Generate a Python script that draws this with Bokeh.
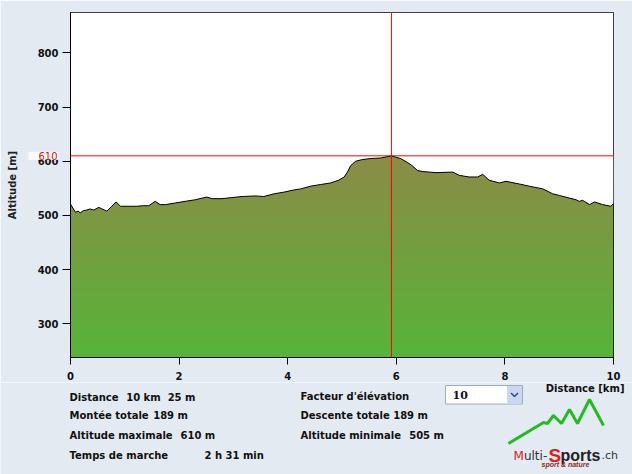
import numpy as np
from bokeh.plotting import figure
from bokeh.models import Range1d, FixedTicker, Span, Label
from bokeh.layouts import column
from bokeh.core.properties import value
from bokeh.embed import file_html
from bokeh.resources import INLINE

# ---------------- data ----------------
distance_km = [0.0, 0.09, 0.14, 0.18, 0.24, 0.30, 0.36, 0.43, 0.52, 0.58, 0.63, 0.67,
               0.76, 0.84, 0.92, 1.22, 1.34, 1.44, 1.56, 1.65, 1.75, 1.93, 2.11, 2.30,
               2.51, 2.61, 2.79, 2.97, 3.16, 3.40, 3.56, 3.75, 3.93, 4.11, 4.24, 4.42,
               4.60, 4.79, 4.94, 5.04, 5.10, 5.16, 5.25, 5.37, 5.52, 5.71, 5.91, 6.08,
               6.20, 6.29, 6.39, 6.49, 6.73, 7.04, 7.16, 7.34, 7.50, 7.59, 7.71, 7.90,
               8.02, 8.27, 8.45, 8.70, 8.88, 9.00, 9.19, 9.31, 9.37, 9.43, 9.56, 9.65,
               9.80, 9.95, 10.0]
altitude_m = [521, 506, 508, 505, 509, 510, 512, 510, 515, 512, 510, 508,
              517, 525, 517, 517, 518, 518, 526, 520, 520, 523, 526, 529,
              534, 531, 531, 533, 535, 536, 535, 540, 543, 547, 549, 554,
              557, 560, 565, 571, 580, 592, 600, 603, 605, 606, 610, 605,
              598, 592, 583, 581, 579, 580, 574, 571, 571, 576, 565, 560,
              563, 558, 554, 549, 540, 537, 532, 529, 526, 528, 520, 525,
              520, 517, 522]
x_ticks = [0, 2, 4, 6, 8, 10]
y_ticks = [300, 400, 500, 600, 700, 800]
max_alt = 610
max_alt_km = 5.91

stat_labels_left = ["Distance", "Montée totale", "Altitude maximale", "Temps de marche"]
stat_values_left = ["10 km\u00a0 25 m", "189 m", "610 m", "2 h 31 min"]
stat_labels_right = ["Facteur d'élévation", "Descente totale", "Altitude minimale"]
stat_values_right = ["189 m", "505 m"]
elevation_factor = "10"

# ---------------- styles ----------------
BG = "#e3eaf2"
RED = "#ff0000"
Y_MIN, Y_MAX = 238, 874.4
FONT = "DejaVu Sans"

p = figure(width=632, height=382, x_range=Range1d(0, 10), y_range=Range1d(Y_MIN, Y_MAX),
           output_backend="svg", toolbar_location=None,
           min_border_left=70, min_border_right=19, min_border_top=12, min_border_bottom=25,
           background_fill_color="white", border_fill_color=BG,
           outline_line_color="black", outline_line_width=1)
p.frame_align = False

# gradient fill under the profile
n = 128
t = np.linspace(0, 1, n)
c_bottom = np.array([86, 180, 56], dtype=float)
c_top = np.array([140, 139, 70], dtype=float)
rgb = c_bottom[None, :] + (c_top - c_bottom)[None, :] * t[:, None]
img = np.empty((n, 2), dtype=np.uint32)
view = img.view(dtype=np.uint8).reshape((n, 2, 4))
for k in range(3):
    view[:, :, k] = np.round(rgb[:, k])[:, None].astype(np.uint8)
view[:, :, 3] = 255
p.image_rgba(image=[img], x=0, y=Y_MIN, dw=10, dh=max(altitude_m) - Y_MIN)

# mask above the profile
p.varea(x=distance_km, y1=altitude_m, y2=Y_MAX, fill_color="white")
p.line(distance_km, altitude_m, line_color="black", line_width=1)

p.add_layout(Span(location=max_alt, dimension="width", line_color=RED, line_width=1))
p.add_layout(Span(location=max_alt_km, dimension="height", line_color=RED, line_width=1))

p.xgrid.visible = False
p.ygrid.visible = False
p.xaxis.ticker = FixedTicker(ticks=x_ticks)
p.yaxis.ticker = FixedTicker(ticks=y_ticks)
for ax in (p.xaxis, p.yaxis):
    ax.major_label_text_font = FONT
    ax.major_label_text_font_style = "bold"
    ax.major_label_text_font_size = "10px"
    ax.major_label_text_color = "#111111"
    ax.major_tick_in = 0
    ax.minor_tick_line_color = None
    ax.axis_line_color = "black"
    ax.major_tick_line_color = "black"
p.xaxis.major_tick_out = 7
p.yaxis.major_tick_out = 8
p.xaxis.major_label_standoff = 7
p.yaxis.major_label_standoff = 4
p.yaxis.axis_label = "Altitude [m]"
p.yaxis.axis_label_text_font = FONT
p.yaxis.axis_label_text_font_style = "bold"
p.yaxis.axis_label_text_font_size = "10px"
p.yaxis.axis_label_text_color = "#222222"
p.yaxis.axis_label_standoff = 17

# max-altitude marker label; living in a side panel keeps it from being clipped
p.add_layout(Label(x=-0.22, y=max_alt, text=str(max_alt), text_align="right",
                   text_baseline="middle", text_color="#dd1111", text_font=FONT,
                   text_font_size="10px", background_fill_color="#fbfbfb",
                   padding=dict(left=10, right=1, top=0, bottom=0)),
             "above")

# ---------------- lower info panel (page pixel coordinates) ----------------
q = figure(width=632, height=92, x_range=Range1d(0, 632), y_range=Range1d(474, 382),
           output_backend="svg", toolbar_location=None, x_axis_type=None, y_axis_type=None,
           min_border=0, min_border_left=0, min_border_right=0, min_border_top=0,
           min_border_bottom=0, background_fill_color=BG, border_fill_color=BG,
           outline_line_color=None)
q.frame_align = False

txt = dict(text_font=value(FONT), text_font_style="bold", text_font_size="10px",
           text_baseline="middle", text_color="#111111")
q.text(x=[69] * 4, y=[396.7, 415, 435, 455], text=stat_labels_left, **txt)
q.text(x=[125.7, 152.7, 180, 204], y=[396.7, 415, 435, 455], text=stat_values_left, **txt)
q.text(x=[300] * 3, y=[396, 415, 435], text=stat_labels_right, **txt)
q.text(x=[392.7, 408.7], y=[415, 435], text=stat_values_right, **txt)
q.text(x=[624], y=[388.3], text=["Distance [km]"], text_align="right", **txt)

# elevation factor selector
q.quad(left=[445], right=[522], top=[385], bottom=[403.5], fill_color="white",
       line_color="#9eacbf", line_width=1)
q.quad(left=[506.5], right=[521.5], top=[385.5], bottom=[403], fill_color="#c9d8ee",
       line_color=None)
q.line(x=[510.5, 514, 517.5], y=[392.5, 396, 392.5], line_color="#30508a", line_width=1.6)
q.text(x=[452], y=[394.5], text=[elevation_factor], text_font=value("DejaVu Serif"),
       text_font_style="bold", text_font_size="11px", text_baseline="middle",
       text_color="#111111")

# logo
q.line(x=[508, 543, 547, 553, 561, 569, 577, 589, 603],
       y=[443, 422, 423, 415, 423, 409, 423, 399, 425],
       line_color="#22bb22", line_width=3)
q.text(x=[513], y=[455], text=["M"], text_font=value(FONT), text_font_size="12px",
       text_color="#e02020", text_baseline="alphabetic")
q.text(x=[523.4], y=[455], text=["ulti-"], text_font=value(FONT), text_font_size="12px",
       text_color="#333333", text_baseline="alphabetic")
q.text(x=[548], y=[455], text=["S"], text_font=value("Liberation Sans"),
       text_font_style="bold", text_font_size="19px", text_color="#e02020",
       text_baseline="alphabetic")
q.text(x=[560], y=[455], text=["ports"], text_font=value("Liberation Sans"),
       text_font_style="bold", text_font_size="16px", text_color="#222222",
       text_baseline="alphabetic")
q.text(x=[601], y=[455], text=[".ch"], text_font=value(FONT), text_font_size="11px",
       text_color="#333333", text_baseline="alphabetic")
q.text(x=[541], y=[464], text=["sport & nature"], text_font=value("Liberation Sans"),
       text_font_style="bold italic", text_font_size="7px", text_color="#8a2a1a",
       text_baseline="middle")

layout = column(p, q, spacing=0)
open("out.html", "w").write(file_html(layout, INLINE))
